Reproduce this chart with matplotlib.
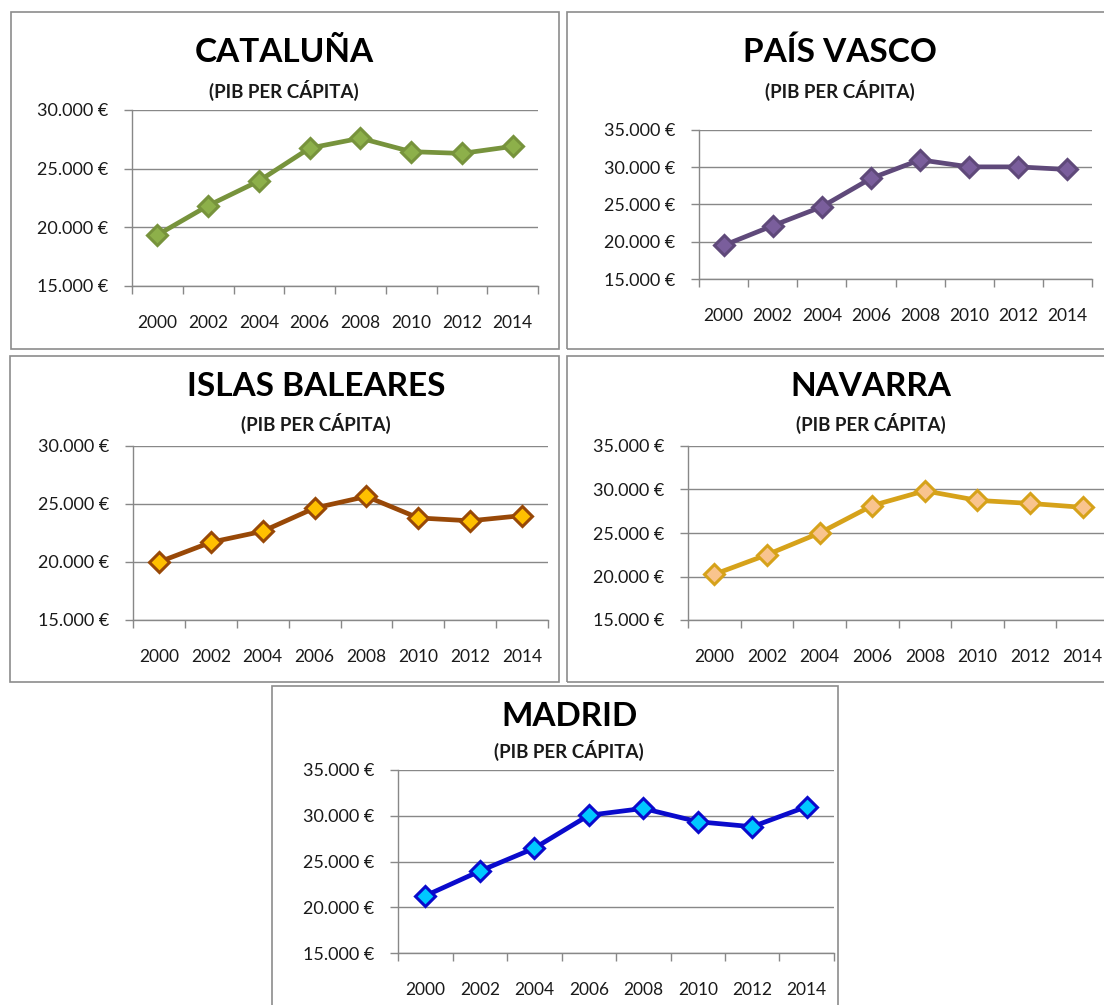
import matplotlib
matplotlib.use("Agg")
import matplotlib.pyplot as plt
from matplotlib.patches import Rectangle
from matplotlib.ticker import FuncFormatter, FixedLocator

W, H = 1104, 1005

years = ["2000", "2002", "2004", "2006", "2008", "2010", "2012", "2014"]

cataluna = [19350, 21850, 23950, 26750, 27600, 26450, 26300, 26900]
pais_vasco = [19500, 22150, 24700, 28500, 31000, 30050, 30050, 29700]
baleares = [20000, 21700, 22650, 24650, 25650, 23800, 23550, 24000]
navarra = [20250, 22500, 25000, 28150, 29850, 28750, 28400, 27950]
madrid = [21250, 23950, 26450, 30050, 30800, 29350, 28800, 31000]

titles = ["CATALUÑA", "PAÍS VASCO", "ISLAS BALEARES", "NAVARRA", "MADRID"]
series = [cataluna, pais_vasco, baleares, navarra, madrid]
ymax = [30000, 35000, 30000, 35000, 35000]

# panel layout in pixels: border box (x0, y0, x1, y1), plot area (x0, y0, x1, y1)
boxes = [(11, 12, 559, 349), (567, 12, 1110, 349), (10, 356, 559, 682),
         (567, 356, 1110, 682), (272, 686, 838, 1012)]
areas = [(132, 110, 538, 286), (699, 130, 1092, 279), (133, 446, 548, 620),
         (688, 446, 1109, 620), (398, 770, 834, 953)]
title_x = [284, 840, 316, 871, 569]
title_y = [52, 52, 386, 386, 716]
sub_y = [90, 90, 423, 423, 750]

styles = [
    dict(color="#77933C", mfc="#8DB04A", mec="#77933C"),
    dict(color="#5F497A", mfc="#7A5E9C", mec="#5F497A"),
    dict(color="#984807", mfc="#FFC000", mec="#984807"),
    dict(color="#D6A21A", mfc="#F9C48E", mec="#D6A21A"),
    dict(color="#0A0ACC", mfc="#00C8FF", mec="#0A0ACC"),
]

FONT = "Lato"
GRID = "#888888"


def fx(px):
    return px / W


def fy(py):
    return 1 - py / H


def eur(v, pos):
    return f"{v:,.0f}".replace(",", ".") + " €"


fig = plt.figure(figsize=(W / 100, H / 100), dpi=100, facecolor="white")

for i in range(5):
    bx0, by0, bx1, by1 = boxes[i]
    fig.patches.append(Rectangle((fx(bx0), fy(by1)), fx(bx1 - bx0), (by1 - by0) / H,
                                 transform=fig.transFigure, fill=False,
                                 edgecolor="#8C8C8C", lw=1.2, zorder=0))
    fig.text(fx(title_x[i]), fy(title_y[i]), titles[i],
             ha="center", va="center", fontsize=24, fontweight="bold",
             family=FONT, color="black")
    fig.text(fx(title_x[i]), fy(sub_y[i]), "(PIB PER CÁPITA)",
             ha="center", va="center", fontsize=13.5,
             fontweight="bold", family=FONT, color="#1A1A1A")

    ax0, ay0, ax1, ay1 = areas[i]
    ax = fig.add_axes((fx(ax0), fy(ay1), fx(ax1 - ax0), (ay1 - ay0) / H))
    xs = list(range(len(years)))
    ax.plot(xs, series[i], marker="D", ms=10, mew=2.2, lw=3.4,
            solid_joinstyle="round", clip_on=False, zorder=3, **styles[i])

    ax.set_xlim(-0.5, len(years) - 0.5)
    ax.set_ylim(15000, ymax[i])
    ax.set_yticks(range(15000, ymax[i] + 1, 5000))
    ax.yaxis.set_major_formatter(FuncFormatter(eur))
    ax.yaxis.grid(True, color=GRID, lw=1)
    ax.set_axisbelow(True)

    ax.set_xticks(xs)
    ax.set_xticklabels(years)
    ax.xaxis.set_minor_locator(FixedLocator([k - 0.5 for k in range(len(years) + 1)]))
    ax.tick_params(axis="x", which="major", length=0, pad=21)
    ax.tick_params(axis="x", which="minor", length=6, width=1, color=GRID, direction="out")
    ax.tick_params(axis="y", length=6, width=1, color=GRID, direction="out", pad=11)
    for lab in ax.get_xticklabels():
        lab.set_family(FONT)
        lab.set_fontsize(12.5)
        lab.set_color("#1A1A1A")
    for lab in ax.get_yticklabels():
        lab.set_family(FONT)
        lab.set_fontsize(13)
        lab.set_color("#1A1A1A")

    for s in ("top", "right"):
        ax.spines[s].set_visible(False)
    for s in ("left", "bottom"):
        ax.spines[s].set_color(GRID)
        ax.spines[s].set_linewidth(1)

fig.savefig("out.png", dpi=100, facecolor="white")
